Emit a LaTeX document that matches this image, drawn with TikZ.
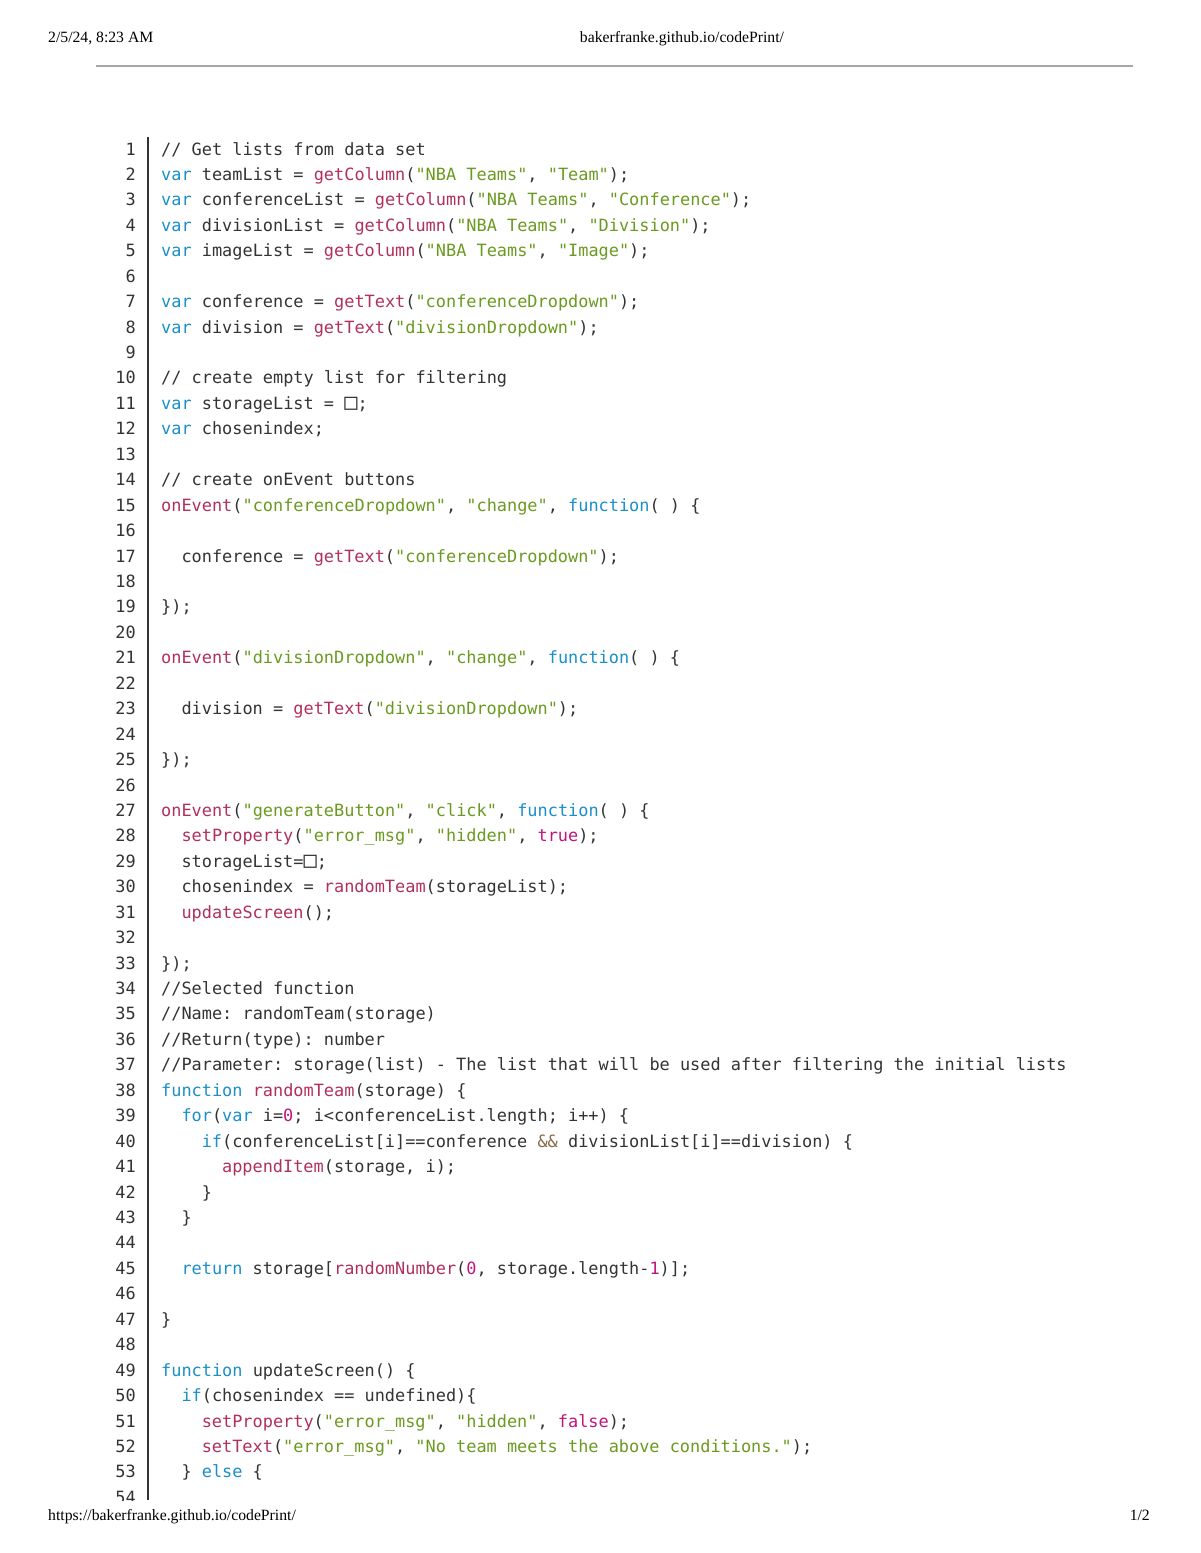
\documentclass[tikz,border=0pt]{standalone}
\usepackage{fontspec}
\setmainfont{Liberation Serif}
\setmonofont{DejaVu Sans Mono}
\definecolor{kwc}{HTML}{1A8FC8}
\definecolor{fnc}{HTML}{B0305A}
\definecolor{stc}{HTML}{6A9A1F}
\definecolor{nmc}{HTML}{C0157A}
\definecolor{plc}{HTML}{333333}
\definecolor{opc}{HTML}{8A6A4A}
\newcommand\kw[1]{{\color{kwc}#1}}
\newcommand\fn[1]{{\color{fnc}#1}}
\newcommand\str[1]{{\color{stc}#1}}
\newcommand\num[1]{{\color{nmc}#1}}
\newcommand\opx[1]{{\color{opc}#1}}
\newcommand\bx{{\fontsize{22}{20}\selectfont □}}
\newcommand\cl[3]{\node[code] (c#1) at ({161+#2*10.15},{155+(#1-1)*25.44}) {#3};}
\begin{document}
\begin{tikzpicture}[x=1pt,y=-1pt,
  code/.style={anchor=base west,inner sep=0,text=plc,font=\fontsize{16.9}{20}\selectfont\ttfamily},
  lnum/.style={anchor=base east,inner sep=0,text=plc,font=\fontsize{16.9}{20}\selectfont\ttfamily},
  hdr/.style={inner sep=0,text=black,font=\fontsize{15.7}{18}\selectfont}]
\useasboundingbox (0,0) rectangle (1200,1553);
\node[hdr,anchor=base west] (hd) at (48,42) {2/5/24, 8:23 AM};
\node[hdr,anchor=base] (hu) at (682,42) {bakerfranke.github.io/codePrint/};
\draw[gray!70,line width=1.5] (96,66) coordinate (l1) -- (1133,66) coordinate (l2);
\node[hdr,anchor=base west] (fu) at (48,1520) {https://bakerfranke.github.io/codePrint/};
\node[hdr,anchor=base east] (fp) at (1150,1520) {1/2};
\draw[plc,line width=1.5] (148,137) coordinate (b1) -- (148,1500) coordinate (b2);
\begin{scope}
\clip (0,130) rectangle (1200,1500);
\foreach \n in {1,...,54}{\node[lnum] (n\n) at (136,{155+(\n-1)*25.44}) {\n};}
\end{scope}
\cl{1}{0}{// Get lists from data set}
\cl{2}{0}{\kw{var} teamList = \fn{getColumn}(\str{"NBA Teams"}, \str{"Team"});}
\cl{3}{0}{\kw{var} conferenceList = \fn{getColumn}(\str{"NBA Teams"}, \str{"Conference"});}
\cl{4}{0}{\kw{var} divisionList = \fn{getColumn}(\str{"NBA Teams"}, \str{"Division"});}
\cl{5}{0}{\kw{var} imageList = \fn{getColumn}(\str{"NBA Teams"}, \str{"Image"});}
\cl{7}{0}{\kw{var} conference = \fn{getText}(\str{"conferenceDropdown"});}
\cl{8}{0}{\kw{var} division = \fn{getText}(\str{"divisionDropdown"});}
\cl{10}{0}{// create empty list for filtering}
\cl{11}{0}{\kw{var} storageList = \bx;}
\cl{12}{0}{\kw{var} chosenindex;}
\cl{14}{0}{// create onEvent buttons}
\cl{15}{0}{\fn{onEvent}(\str{"conferenceDropdown"}, \str{"change"}, \kw{function}( ) \{}
\cl{17}{2}{conference = \fn{getText}(\str{"conferenceDropdown"});}
\cl{19}{0}{\});}
\cl{21}{0}{\fn{onEvent}(\str{"divisionDropdown"}, \str{"change"}, \kw{function}( ) \{}
\cl{23}{2}{division = \fn{getText}(\str{"divisionDropdown"});}
\cl{25}{0}{\});}
\cl{27}{0}{\fn{onEvent}(\str{"generateButton"}, \str{"click"}, \kw{function}( ) \{}
\cl{28}{2}{\fn{setProperty}(\str{"error\_msg"}, \str{"hidden"}, \num{true});}
\cl{29}{2}{storageList=\bx;}
\cl{30}{2}{chosenindex = \fn{randomTeam}(storageList);}
\cl{31}{2}{\fn{updateScreen}();}
\cl{33}{0}{\});}
\cl{34}{0}{//Selected function}
\cl{35}{0}{//Name: randomTeam(storage)}
\cl{36}{0}{//Return(type): number}
\cl{37}{0}{//Parameter: storage(list) - The list that will be used after filtering the initial lists}
\cl{38}{0}{\kw{function} \fn{randomTeam}(storage) \{}
\cl{39}{2}{\kw{for}(\kw{var} i=\num{0}; i<conferenceList.length; i++) \{}
\cl{40}{4}{\kw{if}(conferenceList[i]==conference \opx{\&\&} divisionList[i]==division) \{}
\cl{41}{6}{\fn{appendItem}(storage, i);}
\cl{42}{4}{\}}
\cl{43}{2}{\}}
\cl{45}{2}{\kw{return} storage[\fn{randomNumber}(\num{0}, storage.length-\num{1})];}
\cl{47}{0}{\}}
\cl{49}{0}{\kw{function} updateScreen() \{}
\cl{50}{2}{\kw{if}(chosenindex == undefined)\{}
\cl{51}{4}{\fn{setProperty}(\str{"error\_msg"}, \str{"hidden"}, \num{false});}
\cl{52}{4}{\fn{setText}(\str{"error\_msg"}, \str{"No team meets the above conditions."});}
\cl{53}{2}{\} \kw{else} \{}
\end{tikzpicture}
\end{document}
